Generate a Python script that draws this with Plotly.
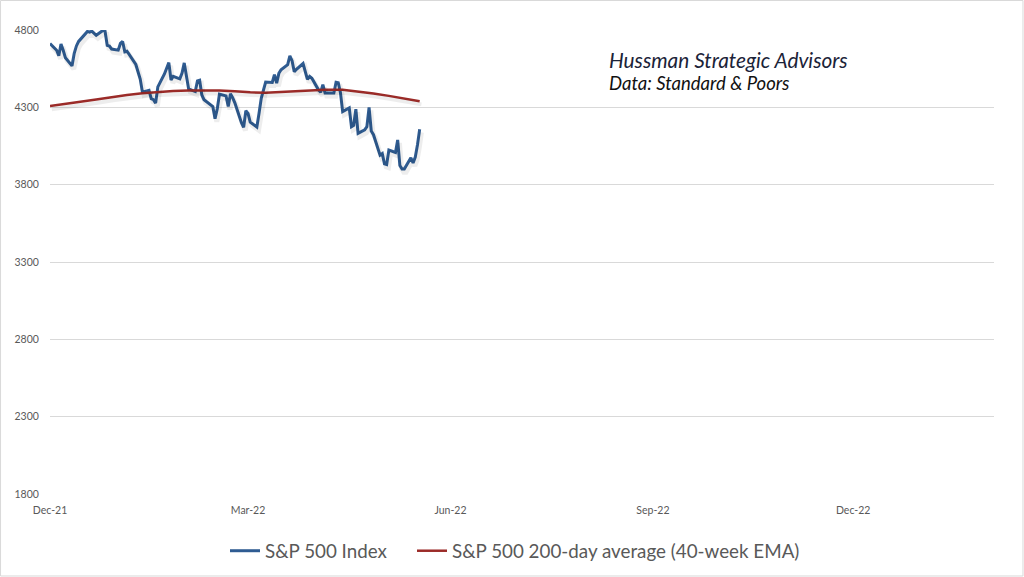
import plotly.graph_objects as go
import pandas as pd

# ---- S&P 500 Index (daily closes) ----
spx_dates = [
    "2021-12-10", "2021-12-13", "2021-12-14", "2021-12-15", "2021-12-16", "2021-12-17",
    "2021-12-20", "2021-12-21", "2021-12-22", "2021-12-23", "2021-12-27", "2021-12-28",
    "2021-12-29", "2021-12-30", "2021-12-31", "2022-01-03", "2022-01-04", "2022-01-05",
    "2022-01-06", "2022-01-07", "2022-01-10", "2022-01-11", "2022-01-12", "2022-01-13",
    "2022-01-14", "2022-01-18", "2022-01-19", "2022-01-20", "2022-01-21", "2022-01-24",
    "2022-01-25", "2022-01-26", "2022-01-27", "2022-01-28", "2022-01-31", "2022-02-01",
    "2022-02-02", "2022-02-03", "2022-02-04", "2022-02-07", "2022-02-08", "2022-02-09",
    "2022-02-10", "2022-02-11", "2022-02-14", "2022-02-15", "2022-02-16", "2022-02-17",
    "2022-02-18", "2022-02-22", "2022-02-23", "2022-02-24", "2022-02-25", "2022-02-28",
    "2022-03-01", "2022-03-02", "2022-03-03", "2022-03-04", "2022-03-07", "2022-03-08",
    "2022-03-09", "2022-03-10", "2022-03-11", "2022-03-14", "2022-03-15", "2022-03-16",
    "2022-03-17", "2022-03-18", "2022-03-21", "2022-03-22", "2022-03-23", "2022-03-24",
    "2022-03-25", "2022-03-28", "2022-03-29", "2022-03-30", "2022-03-31", "2022-04-01",
    "2022-04-04", "2022-04-05", "2022-04-06", "2022-04-07", "2022-04-08", "2022-04-11",
    "2022-04-12", "2022-04-13", "2022-04-14", "2022-04-18", "2022-04-19", "2022-04-20",
    "2022-04-21", "2022-04-22", "2022-04-25", "2022-04-26", "2022-04-27", "2022-04-28",
    "2022-04-29", "2022-05-02", "2022-05-03", "2022-05-04", "2022-05-05", "2022-05-06",
    "2022-05-09", "2022-05-10", "2022-05-11", "2022-05-12", "2022-05-13", "2022-05-16",
    "2022-05-17", "2022-05-18", "2022-05-19", "2022-05-20", "2022-05-23", "2022-05-24",
    "2022-05-25", "2022-05-26", "2022-05-27",
]
spx_values = [
    4712, 4669, 4634, 4710, 4669, 4621,
    4568, 4649, 4697, 4726, 4791, 4786,
    4793, 4779, 4766, 4797, 4794, 4701,
    4696, 4677, 4670, 4713, 4726, 4659,
    4663, 4577, 4533, 4483, 4398, 4410,
    4356, 4350, 4327, 4432, 4516, 4547,
    4589, 4477, 4501, 4484, 4522, 4587,
    4504, 4419, 4402, 4471, 4475, 4380,
    4349, 4305, 4226, 4289, 4385, 4374,
    4306, 4387, 4363, 4329, 4201, 4171,
    4278, 4260, 4204, 4173, 4262, 4358,
    4412, 4463, 4461, 4512, 4456, 4520,
    4543, 4576, 4632, 4602, 4530, 4546,
    4583, 4525, 4481, 4500, 4488, 4413,
    4397, 4447, 4393, 4392, 4462, 4459,
    4394, 4272, 4296, 4175, 4184, 4288,
    4132, 4155, 4175, 4300, 4147, 4123,
    3991, 4001, 3935, 3930, 4024, 4008,
    4089, 3924, 3901, 3901, 3974, 3941,
    3979, 4058, 4158,
]

# ---- 40-week EMA (weekly readings) ----
ema_dates = [
    "2021-12-10", "2021-12-17", "2021-12-23", "2021-12-31", "2022-01-07", "2022-01-14",
    "2022-01-21", "2022-01-28", "2022-02-04", "2022-02-11", "2022-02-18", "2022-02-25",
    "2022-03-04", "2022-03-11", "2022-03-18", "2022-03-25", "2022-04-01", "2022-04-08",
    "2022-04-14", "2022-04-22", "2022-04-29", "2022-05-06", "2022-05-13", "2022-05-20",
    "2022-05-27",
]
ema_values = [
    4308, 4320, 4335, 4350, 4366, 4380,
    4391, 4399, 4405, 4409, 4411, 4409,
    4404, 4397, 4395, 4399, 4405, 4410,
    4414, 4413, 4403, 4390, 4374, 4356,
    4339,
]

# ---- axis ticks ----
x_tick_dates = ["2021-12-10", "2022-03-10", "2022-06-10", "2022-09-10", "2022-12-10"]
x_tick_labels = ["Dec-21", "Mar-22", "Jun-22", "Sep-22", "Dec-22"]
y_ticks = [1800, 2300, 2800, 3300, 3800, 4300, 4800]

series_names = ["S&P 500 Index", "S&P 500 200-day average (40-week EMA)"]

BLUE = "#2F5C92"
RED = "#9B2B28"
GRAY = "#595959"

x_range = ["2021-12-10", "2023-02-12"]
y_range = [1800, 4800]

# shadow offsets expressed in axis units (approx. 1-2px right, 3px down)
x_shift_days = 0.8
y_shift = 20

fig = go.Figure()

xr_shadow = [
    str(pd.Timestamp(x_range[0]) - pd.Timedelta(days=x_shift_days)),
    str(pd.Timestamp(x_range[1]) - pd.Timedelta(days=x_shift_days)),
]
yr_shadow = [y_range[0] + y_shift, y_range[1] + y_shift]

# soft shadows
fig.add_trace(go.Scatter(x=ema_dates, y=ema_values, mode="lines",
                         line=dict(color="rgba(0,0,0,0.07)", width=4),
                         xaxis="x2", yaxis="y2", showlegend=False, hoverinfo="skip"))
fig.add_trace(go.Scatter(x=spx_dates, y=spx_values, mode="lines",
                         line=dict(color="rgba(0,0,0,0.07)", width=5),
                         xaxis="x2", yaxis="y2", showlegend=False, hoverinfo="skip"))

fig.add_trace(go.Scatter(x=spx_dates, y=spx_values, mode="lines", name=series_names[0],
                         line=dict(color=BLUE, width=3), legend="legend"))
fig.add_trace(go.Scatter(x=ema_dates, y=ema_values, mode="lines", name=series_names[1],
                         line=dict(color=RED, width=2.5), legend="legend2"))

legend_common = dict(orientation="h", xref="container", yref="container",
                     y=1 - 551 / 577, yanchor="middle", xanchor="left",
                     font=dict(size=18.8, color=GRAY, family="Lato"), itemwidth=30,
                     bgcolor="rgba(0,0,0,0)")

fig.update_layout(
    width=1024, height=577,
    margin=dict(l=50, r=30, t=30, b=83),
    paper_bgcolor="white", plot_bgcolor="white",
    font=dict(family="Lato", color=GRAY),
    showlegend=True,
    legend=dict(x=225 / 1024, **legend_common),
    legend2=dict(x=412 / 1024, **legend_common),
    xaxis=dict(type="date", range=x_range, tickvals=x_tick_dates, ticktext=x_tick_labels,
               showgrid=False, zeroline=False, showline=False,
               ticks="outside", ticklen=6, tickcolor="rgba(0,0,0,0)",
               tickfont=dict(size=10.5, color=GRAY, family="Lato")),
    yaxis=dict(range=y_range, tickvals=y_ticks, showgrid=True, gridcolor="#D9D9D9",
               gridwidth=1, zeroline=False, showline=False,
               ticks="outside", ticklen=8, tickcolor="rgba(0,0,0,0)",
               tickfont=dict(size=10.5, color=GRAY, family="Lato")),
    xaxis2=dict(type="date", range=xr_shadow, overlaying="x", visible=False),
    yaxis2=dict(range=yr_shadow, overlaying="y", visible=False),
    annotations=[
        dict(text="Hussman Strategic Advisors", xref="paper", yref="paper",
             x=0.5905, y=0.937, xanchor="left", yanchor="middle", showarrow=False,
             font=dict(family="Lato", size=20.8, color="#1B2338", style="italic")),
        dict(text="Data: Standard & Poors", xref="paper", yref="paper",
             x=0.5905, y=0.886, xanchor="left", yanchor="middle", showarrow=False,
             font=dict(family="Lato", size=18.5, color="#111111", style="italic")),
    ],
    shapes=[
        dict(type="rect", xref="paper", yref="paper",
             x0=-0.0524, x1=1.0307, y0=-0.1767, y1=1.0636,
             line=dict(color="#D9D9D9", width=1), fillcolor="rgba(0,0,0,0)", layer="below"),
    ],
)

fig.write_html("out.html", config={"displayModeBar": False},
               post_script="document.body.style.margin='0';document.body.style.overflow='hidden';")
